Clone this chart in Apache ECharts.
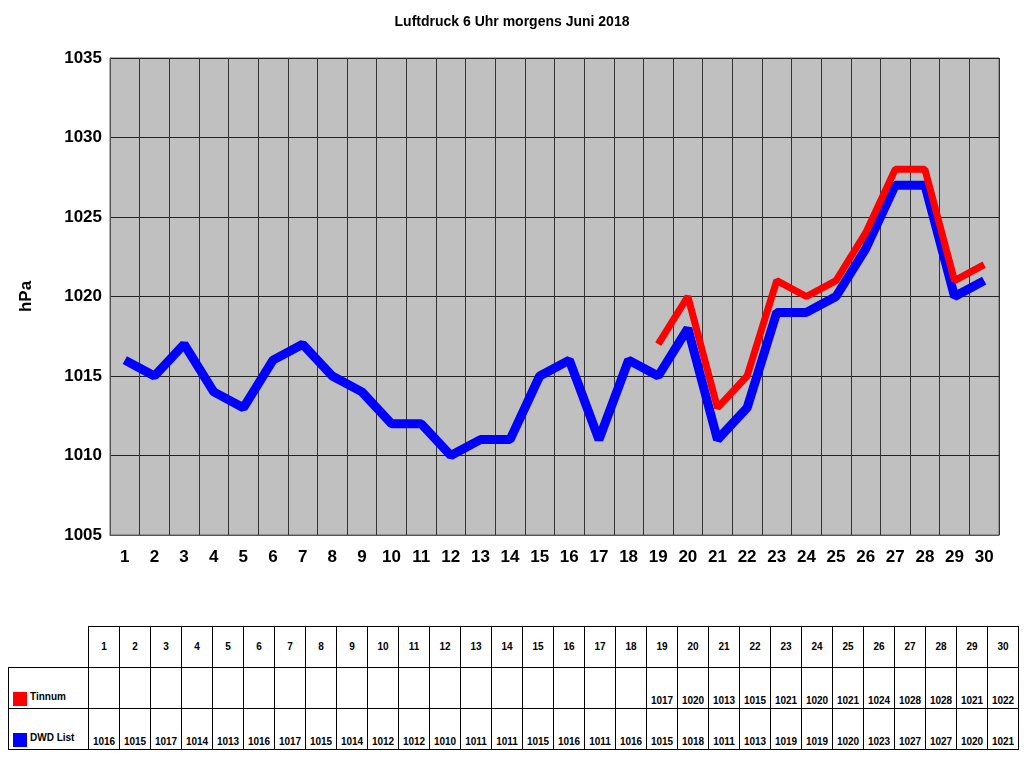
<!DOCTYPE html>
<html><head><meta charset="utf-8">
<script src="https://cdn.jsdelivr.net/npm/echarts@6/dist/echarts.min.js"></script>
<style>
body{margin:0;background:#fff;font-family:Arial,"Liberation Sans",sans-serif}
#c{width:1024px;height:610px}
table{position:absolute;left:8px;top:626px;border-collapse:collapse;font-size:10px;font-weight:bold;table-layout:fixed}
td{border:1px solid #000;width:30px;height:38px;text-align:center;vertical-align:bottom;padding:0 0 2px 0}
td.l{width:79px;text-align:left;border-left:none;border-top:none;vertical-align:bottom}
tr:first-child td.l{border-bottom:1px solid #000}
tr:first-child td{vertical-align:middle}
.sw{display:inline-block;width:14px;height:14px;margin:0 3px 0 4px;vertical-align:-6px}
</style></head><body>
<div id="c"></div>
<table id="t"></table>
<script>
const days=[1,2,3,4,5,6,7,8,9,10,11,12,13,14,15,16,17,18,19,20,21,22,23,24,25,26,27,28,29,30];
const tinnum=[null,null,null,null,null,null,null,null,null,null,null,null,null,null,null,null,null,null,1017,1020,1013,1015,1021,1020,1021,1024,1028,1028,1021,1022];
const dwd=[1016,1015,1017,1014,1013,1016,1017,1015,1014,1012,1012,1010,1011,1011,1015,1016,1011,1016,1015,1018,1011,1013,1019,1019,1020,1023,1027,1027,1020,1021];
const yTicks=[1005,1010,1015,1020,1025,1030,1035];
const ch=echarts.init(document.getElementById('c'));
ch.setOption({
 animation:false,
 title:{text:'Luftdruck 6 Uhr morgens Juni 2018',left:'center',top:10,textStyle:{fontSize:14,fontWeight:'bold',color:'#000'}},
 grid:{left:110,right:25,top:58,bottom:75,show:true,backgroundColor:'#c0c0c0',borderColor:'#666'},
 xAxis:{type:'category',data:days.map(String),boundaryGap:true,
  axisLabel:{fontSize:17,fontWeight:'bold',color:'#000',margin:14},
  axisTick:{show:false},axisLine:{lineStyle:{color:'#555'}},
  splitLine:{show:true,lineStyle:{color:'#333'}}},
 yAxis:{type:'value',min:yTicks[0],max:yTicks[yTicks.length-1],interval:5,name:'hPa',nameLocation:'middle',nameGap:75,
  nameTextStyle:{fontSize:17,fontWeight:'bold',color:'#000'},
  axisLabel:{fontSize:17,fontWeight:'bold',color:'#000',formatter:v=>String(v)},
  axisLine:{show:true,lineStyle:{color:'#555'}},
  splitLine:{lineStyle:{color:'#222'}}},
 series:[
  {name:'DWD List',type:'line',data:dwd,symbol:'none',lineStyle:{color:'#0000ff',width:9},z:2},
  {name:'Tinnum',type:'line',data:tinnum,symbol:'none',lineStyle:{color:'#ff0000',width:7},z:3}
 ]
});
let h='<tr><td class="l"></td>'+days.map(d=>'<td>'+d+'</td>').join('')+'</tr>';
h+='<tr><td class="l" style="border-left:1px solid #000"><span class="sw" style="background:#f00"></span>Tinnum</td>'+tinnum.map(v=>'<td>'+(v??'')+'</td>').join('')+'</tr>';
h+='<tr><td class="l" style="border-left:1px solid #000"><span class="sw" style="background:#00f"></span>DWD List</td>'+dwd.map(v=>'<td>'+v+'</td>').join('')+'</tr>';
document.getElementById('t').innerHTML=h;
</script></body></html>
